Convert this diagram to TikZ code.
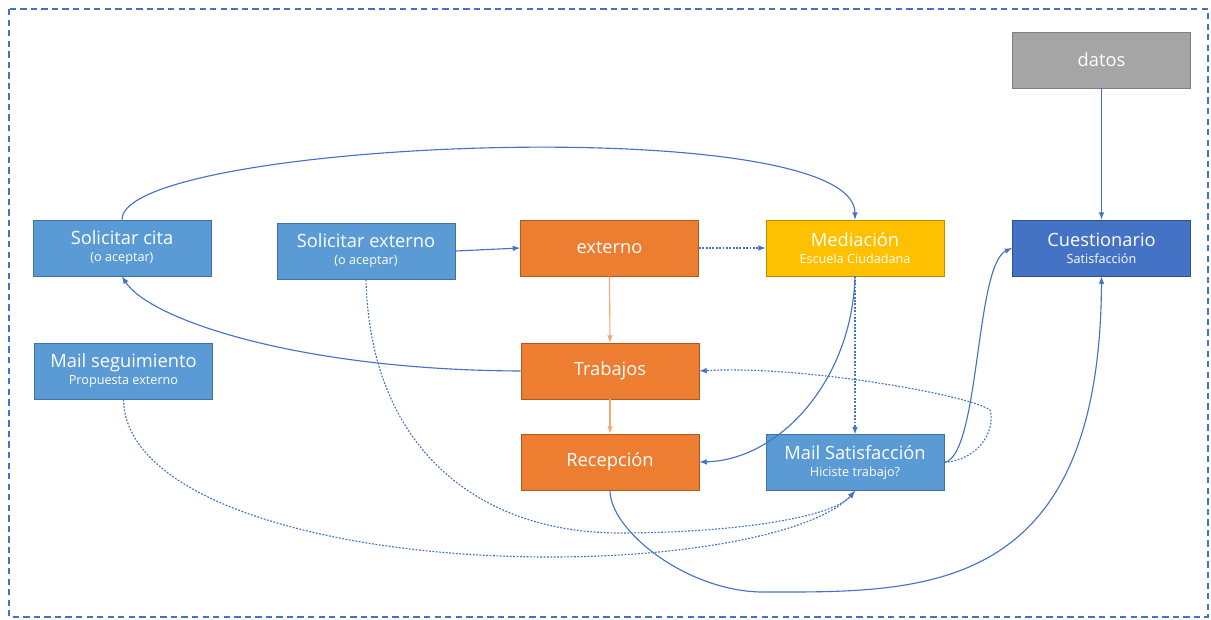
\documentclass[tikz,border=0pt]{standalone}
\usepackage{fontspec}
\setmainfont{Open Sans}
\usepackage{tikz}
\usetikzlibrary{arrows}

\definecolor{azulcaja}{HTML}{5B9BD5}
\definecolor{azulborde}{HTML}{41719C}
\definecolor{azuloscuro}{HTML}{4472C4}
\definecolor{azulosborde}{HTML}{2F528F}
\definecolor{naranjacaja}{HTML}{ED7D31}
\definecolor{naranjaborde}{HTML}{AE5A21}
\definecolor{naranjalinea}{HTML}{F4A870}
\definecolor{amarillocaja}{HTML}{FFC000}
\definecolor{amarilloborde}{HTML}{BC8C00}
\definecolor{griscaja}{HTML}{A5A5A5}
\definecolor{grisborde}{HTML}{7F7F7F}
\definecolor{linea}{HTML}{4472C4}

\newcommand{\titulo}[1]{{\fontsize{13}{15}\selectfont #1}}
\newcommand{\subtitulo}[1]{{\fontsize{9}{11}\selectfont #1}}

\begin{document}
\begin{tikzpicture}
		[x=0.025cm,y=-0.025cm,
		caja/.style= {minimum width=4.45cm,minimum height=1.4cm,inner sep=0pt,line width=0.6pt,text=white,align=center},
		azul/.style= {caja,fill=azulcaja,draw=azulborde},
		oscuro/.style= {caja,fill=azuloscuro,draw=azulosborde},
		naranja/.style= {caja,fill=naranjacaja,draw=naranjaborde},
		amarillo/.style= {caja,fill=amarillocaja,draw=amarilloborde},
		gris/.style= {caja,fill=griscaja,draw=grisborde},
		flecha/.style= {-latex,draw=linea,line width=0.8pt},
		punteada/.style= {flecha,dash pattern=on 1.3pt off 1.1pt},
		flechanaranja/.style= {-latex,draw=naranjalinea,line width=0.8pt}]

		\useasboundingbox (0,0) rectangle (1211,619);
		\draw[linea,line width=0.9pt,dash pattern=on 4.5pt off 3pt] (9,9) rectangle (1208,617);

		\node[gris] (datos) at (1101.5,60) {\titulo{datos}};
		\node[oscuro] (cuest) at (1101.5,248) {\titulo{Cuestionario}\\[0pt]\subtitulo{Satisfacción}};
		\node[azul] (cita) at (122,248) {\titulo{Solicitar cita}\\[0pt]\subtitulo{(o aceptar)}};
		\node[azul] (solext) at (366,251) {\titulo{Solicitar externo}\\[0pt]\subtitulo{(o aceptar)}};
		\node[naranja] (externo) at (609.5,248) {\titulo{externo}};
		\node[amarillo] (mediacion) at (855,248) {\titulo{Mediación}\\[0pt]\subtitulo{Escuela Ciudadana}};
		\node[azul] (mailseg) at (123.5,371) {\titulo{Mail seguimiento}\\[0pt]\subtitulo{Propuesta externo}};
		\node[naranja] (trabajos) at (610,371) {\titulo{Trabajos}};
		\node[naranja] (recepcion) at (610,462) {\titulo{Recepción}};
		\node[azul] (mailsat) at (855,462.5) {\titulo{Mail Satisfacción}\\[0pt]\subtitulo{Hiciste trabajo?}};

		% lineas de arriba
		\draw[flecha] (cita.north) .. controls (122,140) and (855,110) .. (mediacion.north);
		\draw[flecha] (solext.east) -- (externo.west);
		\draw[punteada] (externo.east) -- (mediacion.west);
		\draw[flecha] (datos.south) -- (cuest.north);

		% columna naranja
		\draw[flechanaranja] (externo.south) -- (trabajos.north);
		\draw[flechanaranja] (trabajos.south) -- (recepcion.north);

		\draw[flecha] (trabajos.west) .. controls (300,370) and (150,320) .. (cita.south);
		\draw[flecha] (mediacion.south) .. controls (852,380) and (780,460) .. (recepcion.east);
		\draw[punteada] (mediacion.south) -- (mailsat.north);
		\draw[flecha] (mailsat.east) .. controls (980,455) and (975,265) .. (cuest.west);
		\draw[punteada] (mailsat.east) .. controls (985,458) and (995,425) .. (990,410)
			.. controls (970,395) and (800,365) .. (trabajos.east);

		% curvas de abajo
		\draw[flecha] (recepcion.south) .. controls (610,530) and (685,590) .. (760,592)
			.. controls (920,592) and (1100,600) .. (cuest.south);
		\draw[punteada] (solext.south) .. controls (370,450) and (480,533) .. (620,533)
			.. controls (720,533) and (830,520) .. (mailsat.south);
		\draw[punteada] (mailseg.south) .. controls (125,500) and (330,557) .. (550,557)
			.. controls (700,557) and (820,530) .. (mailsat.south);

	\end{tikzpicture}
\end{document}
